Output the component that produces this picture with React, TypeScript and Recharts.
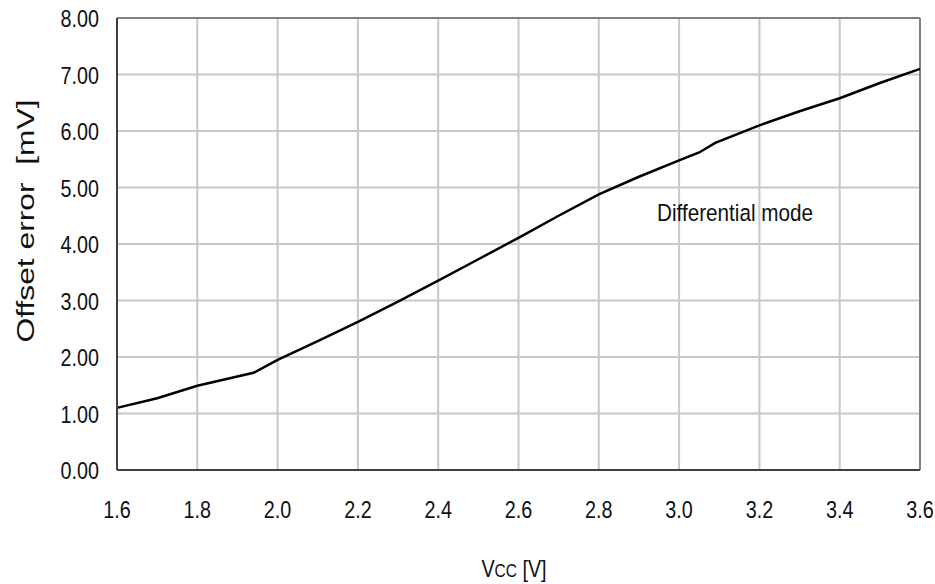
import React from 'react';
import { LineChart, Line, XAxis, YAxis, CartesianGrid, ReferenceLine, ReferenceDot, Label } from 'recharts';

const vcc = [1.6, 1.7, 1.8, 1.94, 2.0, 2.1, 2.2, 2.3, 2.4, 2.5, 2.6, 2.7, 2.8, 2.9, 3.0, 3.05, 3.09, 3.2, 3.3, 3.4, 3.5, 3.6];
const offsetError = [1.10, 1.27, 1.49, 1.72, 1.95, 2.28, 2.62, 2.98, 3.35, 3.73, 4.11, 4.50, 4.88, 5.19, 5.48, 5.62, 5.79, 6.10, 6.35, 6.58, 6.85, 7.10];
const xTicks = [1.6, 1.8, 2.0, 2.2, 2.4, 2.6, 2.8, 3.0, 3.2, 3.4, 3.6];
const yTicks = [0, 1, 2, 3, 4, 5, 6, 7, 8];

const data = vcc.map((v, i) => ({ v, e: offsetError[i] }));

const FONT = '"Liberation Sans", Arial, sans-serif';
const SX = 0.86;
const SY = 1.05;
const FS = 23;
const TXT = '#111';

const XTick = (props: any) => {
  const { x, y, payload } = props;
  return (
    <g transform={`translate(${x},${y + 40}) scale(${SX},${SY})`}>
      <text x={0} y={0} textAnchor="middle" fontSize={FS} fontFamily={FONT} fill={TXT}>
        {Number(payload.value).toFixed(1)}
      </text>
    </g>
  );
};

const YTick = (props: any) => {
  const { x, y, payload } = props;
  return (
    <g transform={`translate(${x - 10},${y + 9}) scale(${SX},${SY})`}>
      <text x={0} y={0} textAnchor="end" fontSize={FS} fontFamily={FONT} fill={TXT}>
        {Number(payload.value).toFixed(2)}
      </text>
    </g>
  );
};

const YTitle = () => (
  <text
    transform="translate(34,221) rotate(-90)"
    textAnchor="middle"
    fontSize={23}
    fontFamily={FONT}
    fill={TXT}
    textLength={243}
    lengthAdjust="spacingAndGlyphs"
  >
    {'Offset error\u00a0\u00a0[mV]'}
  </text>
);

const XTitle = () => (
  <g transform={`translate(514,577) scale(${SX},${SY})`}>
    <text x={0} y={0} textAnchor="middle" fontSize={FS} fontFamily={FONT} fill={TXT}>
      V<tspan fontSize={18}>CC</tspan> [V]
    </text>
  </g>
);

const Annotation = (props: any) => {
  const vb = props.viewBox || {};
  const x = vb.x ?? 0;
  const y = vb.y ?? 0;
  return (
    <g transform={`translate(${x},${y}) scale(0.9,${SY})`}>
      <text x={0} y={0} textAnchor="start" fontSize={FS} fontFamily={FONT} fill={TXT}>
        Differential mode
      </text>
    </g>
  );
};

export default function App() {
  return (
    <div style={{ position: 'absolute', left: 0, top: 0, width: 935, height: 584, background: '#fff' }}>
      <LineChart width={935} height={584} data={data} margin={{ top: 18, right: 15, left: 0, bottom: 0 }}>
        <CartesianGrid stroke="#c8c8c8" strokeWidth={2} />
        <XAxis
          dataKey="v"
          type="number"
          domain={[1.6, 3.6]}
          ticks={xTicks}
          tick={<XTick />}
          tickLine={false}
          axisLine={{ stroke: '#404040', strokeWidth: 2 }}
          height={114}
          interval={0}
        >
          <Label content={<XTitle />} />
        </XAxis>
        <YAxis
          type="number"
          domain={[0, 8]}
          ticks={yTicks}
          tick={<YTick />}
          tickLine={false}
          axisLine={{ stroke: '#404040', strokeWidth: 2 }}
          width={117}
          interval={0}
        >
          <Label content={<YTitle />} />
        </YAxis>
        <ReferenceLine y={8} stroke="#808080" strokeWidth={2} />
        <ReferenceLine x={3.6} stroke="#808080" strokeWidth={2} />
        <ReferenceDot x={2.945} y={4.41} r={0} stroke="none" fill="none" label={<Annotation />} />
        <Line
          type="linear"
          dataKey="e"
          stroke="#000"
          strokeWidth={2.5}
          dot={false}
          isAnimationActive={false}
        />
      </LineChart>
    </div>
  );
}
